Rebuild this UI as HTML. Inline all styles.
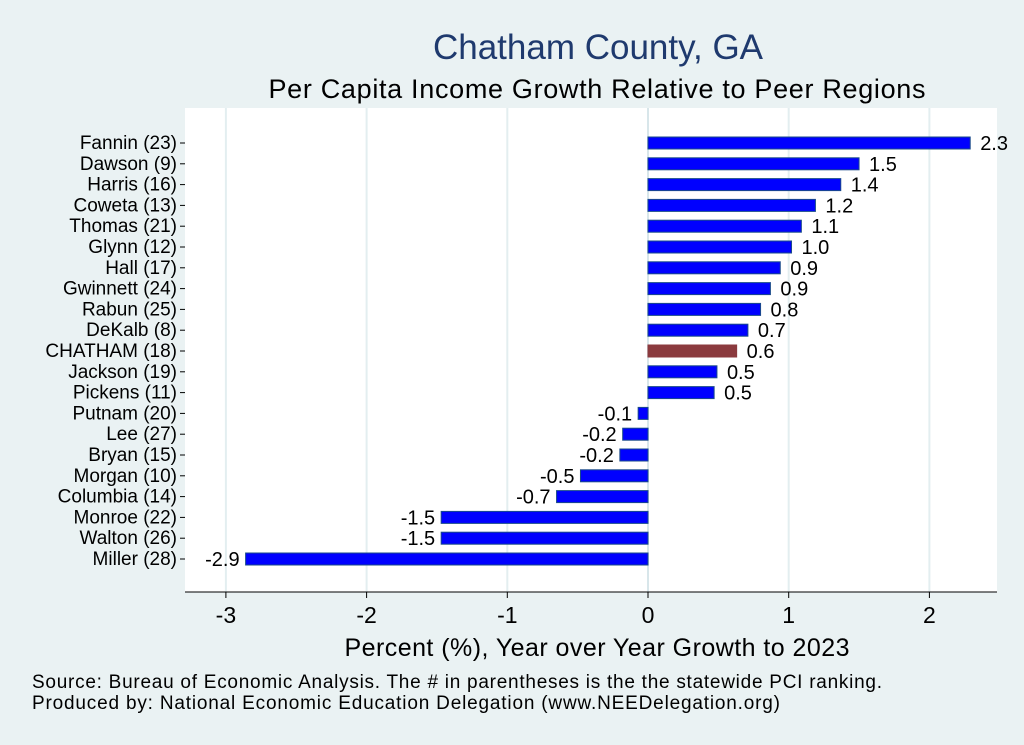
<!DOCTYPE html>
<html><head><meta charset="utf-8"><style>
body{margin:0;background:#eaf2f3;font-family:"Liberation Sans",sans-serif}
</style></head><body>
<svg id="c" width="1024" height="745" xmlns="http://www.w3.org/2000/svg" style="display:block">
<rect width="1024" height="745" fill="#eaf2f3"/>
<text x="598" y="59" font-size="35" fill="#1f3a6e" text-anchor="middle">Chatham County, GA</text>
<text x="597" y="98" font-size="27" fill="#000" text-anchor="middle" textLength="657">Per Capita Income Growth Relative to Peer Regions</text>
<rect x="185" y="108" width="812" height="484" fill="#fff"/>
<g id="grid"></g><g id="bars"></g><g id="ylab"></g><g id="xt"></g>
<line x1="185" y1="592" x2="997" y2="592" stroke="#000" stroke-width="1"/>
<text x="597" y="656" font-size="25" text-anchor="middle" textLength="505">Percent (%), Year over Year Growth to 2023</text>
<text x="32" y="688" font-size="19" textLength="850">Source: Bureau of Economic Analysis. The # in parentheses is the the statewide PCI ranking.</text>
<text x="32" y="709" font-size="19" textLength="748">Produced by: National Economic Education Delegation (www.NEEDelegation.org)</text>
</svg>
<script>
const categories=["Fannin (23)","Dawson  (9)","Harris (16)","Coweta (13)","Thomas (21)","Glynn (12)","Hall (17)","Gwinnett (24)","Rabun (25)","DeKalb  (8)","CHATHAM (18)","Jackson (19)","Pickens (11)","Putnam (20)","Lee (27)","Bryan (15)","Morgan (10)","Columbia (14)","Monroe (22)","Walton (26)","Miller (28)"];
const values=[2.29,1.5,1.37,1.19,1.09,1.02,0.94,0.87,0.80,0.71,0.63,0.49,0.47,-0.07,-0.18,-0.2,-0.48,-0.65,-1.47,-1.47,-2.86];
const valueLabels=["2.3","1.5","1.4","1.2","1.1","1.0","0.9","0.9","0.8","0.7","0.6","0.5","0.5","-0.1","-0.2","-0.2","-0.5","-0.7","-1.5","-1.5","-2.9"];
const xTicks=[-3,-2,-1,0,1,2];
const highlight="CHATHAM (18)";
const NS="http://www.w3.org/2000/svg";
const x=v=>648+v*140.7;
const y=i=>143+i*20.8;
function mk(p,t,a){const e=document.createElementNS(NS,t);for(const k in a)e.setAttribute(k,a[k]);document.getElementById(p).appendChild(e);return e;}
xTicks.forEach(t=>{
 const g=mk('grid','line',{x1:x(t),x2:x(t),y1:108,y2:592,stroke:t===0?'#d8e6ea':'#e3eef0','stroke-width':2});
 
 
 const tk=mk('xt','line',{x1:x(t),x2:x(t),y1:592,y2:598,stroke:'#000'});
 
 
 const tl=mk('xt','text',{x:x(t),y:623,'font-size':23,'text-anchor':'middle'});
 tl.textContent=String(t);
 
 
});
categories.forEach((c,i)=>{
 const v=values[i],cy=y(i),hi=c===highlight;
 const r=mk('bars','rect',{x:Math.min(x(0),x(v)),y:cy-6,width:Math.abs(x(v)-x(0)),height:12,fill:hi?'#8b3a3e':'#0000ff',stroke:hi?'#8b3a3e':'#1a4a8a','stroke-width':1});
 
 
 const vl=mk('bars','text',{x:v>=0?x(v)+10:x(v)-6,y:cy+7,'font-size':20,'text-anchor':v>=0?'start':'end'});
 vl.textContent=valueLabels[i];
 
 
 const tk=mk('ylab','line',{x1:180,x2:185,y1:cy,y2:cy,stroke:'#000'});
 
 
 const cl=mk('ylab','text',{x:177,y:cy+6,'font-size':19,'text-anchor':'end'});
 cl.textContent=c;
 
 
});
</script>
</body></html>
